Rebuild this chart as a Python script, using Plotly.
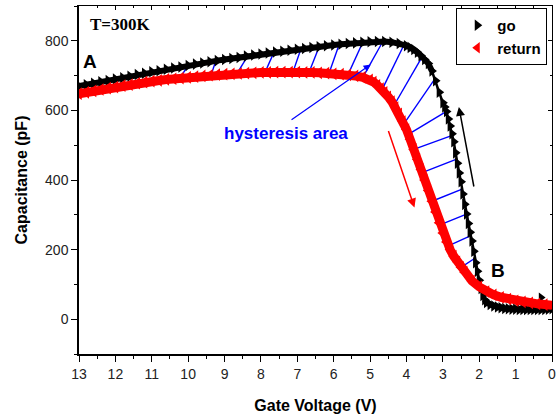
import numpy as np
import plotly.graph_objects as go

# ---- data ----
go_v = [13.0, 12.8, 12.6, 12.4, 12.2, 12.0, 11.8, 11.6, 11.4, 11.2, 11.0, 10.8, 10.6, 10.4, 10.2,
        10.0, 9.8, 9.6, 9.4, 9.2, 9.0, 8.8, 8.6, 8.4, 8.2, 8.0, 7.8, 7.6, 7.4, 7.2, 7.0, 6.8, 6.6,
        6.4, 6.2, 6.0, 5.8, 5.6, 5.4, 5.2, 5.0, 4.8, 4.6, 4.4, 4.2, 4.0, 3.9, 3.8, 3.7, 3.6, 3.5,
        3.4, 3.3, 3.2, 3.1, 3.0, 2.95, 2.9, 2.85, 2.8, 2.75, 2.7, 2.65, 2.6, 2.55, 2.5, 2.45, 2.4,
        2.35, 2.3, 2.25, 2.2, 2.15, 2.1, 2.05, 2.0, 1.95, 1.9, 1.85, 1.8, 1.7, 1.6, 1.5, 1.4, 1.3,
        1.2, 1.1, 1.0, 0.9, 0.8, 0.7, 0.6, 0.5, 0.4, 0.3, 0.2, 0.1, 0.0]
go_c = [670, 674, 678, 682, 686, 690, 694, 698, 703, 707, 711, 714, 718, 722, 725,
        729, 733, 736, 740, 743, 746, 749, 752, 756, 759, 762, 765, 768, 770, 773, 776, 778, 781,
        783, 786, 788, 790, 792, 794, 796, 797, 798, 798, 796, 792, 786, 781, 775, 767, 757, 746,
        735, 713, 685, 652, 622, 610, 597, 575, 555, 533, 510, 478, 448, 420, 395, 360, 330,
        302, 275, 250, 225, 195, 162, 138, 112, 88, 68, 56, 48, 42, 38, 35, 33, 31,
        30, 29, 29, 28, 28, 28, 28, 28, 28, 28, 28, 29, 30]
go_start_v = [0.3]
go_start_c = [62]

ret_v = [13.0, 12.8, 12.6, 12.4, 12.2, 12.0, 11.8, 11.6, 11.4, 11.2, 11.0, 10.8, 10.6, 10.4, 10.2,
         10.0, 9.8, 9.6, 9.4, 9.2, 9.0, 8.8, 8.6, 8.4, 8.2, 8.0, 7.8, 7.6, 7.4, 7.2, 7.0, 6.8, 6.6,
         6.4, 6.2, 6.0, 5.8, 5.6, 5.4, 5.2, 5.0, 4.9, 4.8, 4.7, 4.6, 4.5, 4.4, 4.3, 4.2, 4.1, 4.0,
         3.9, 3.8, 3.7, 3.6, 3.5, 3.4, 3.3, 3.2, 3.1, 3.0, 2.9, 2.8, 2.7, 2.6, 2.5, 2.4, 2.2, 2.0,
         1.8, 1.6, 1.4, 1.2, 1.0, 0.8, 0.6, 0.4, 0.2, 0.0]
ret_c = [648, 652, 656, 660, 664, 667, 671, 674, 678, 681, 684, 686, 689, 691, 693,
         695, 697, 699, 701, 703, 704, 705, 706, 707, 708, 709, 709, 710, 710, 710, 710, 709, 709,
         708, 707, 705, 704, 702, 699, 695, 688, 681, 672, 663, 652, 639, 625, 608, 590, 568, 545,
         517, 488, 459, 430, 400, 370, 339, 308, 277, 248, 222, 200, 181, 165, 149, 135, 110, 93,
         79, 70, 63, 58, 53, 50, 47, 44, 42, 40]

# hysteresis hatch lines: voltage on the return curve -> voltage on the go curve
hatch_ret_v = [10.23, 9.37, 8.66, 7.89, 7.12, 6.68, 6.13, 5.61, 5.20, 4.67, 4.34, 4.07, 3.95,
               3.80, 3.57, 3.30, 3.08, 2.85, 2.50]
hatch_go_v = [10.0, 9.24, 8.36, 7.64, 6.90, 6.40, 5.85, 5.20, 4.65, 4.07, 3.57, 3.22, 2.90,
              2.74, 2.62, 2.47, 2.35, 2.23, 2.12]

x_ticks = list(range(0, 14))
y_ticks = [0, 200, 400, 600, 800]

SANS = "Liberation Sans, Arial, sans-serif"
SERIF = "Liberation Serif, Times New Roman, serif"

fig = go.Figure()

# hatch lines (below the curves)
gv_asc = np.array(go_v[::-1]); gc_asc = np.array(go_c[::-1])
rv_asc = np.array(ret_v[::-1]); rc_asc = np.array(ret_c[::-1])
hx, hy = [], []
for rv, gvv in zip(hatch_ret_v, hatch_go_v):
    hx += [rv, gvv, None]
    hy += [float(np.interp(rv, rv_asc, rc_asc)), float(np.interp(gvv, gv_asc, gc_asc)), None]
fig.add_trace(go.Scatter(x=hx, y=hy, mode="lines", line=dict(color="#0000ff", width=1.4),
                         showlegend=False, hoverinfo="skip"))

# go sweep: dense flat parts as a thick band, steep part as separate triangles
gv = np.array(go_v); gc = np.array(go_c)
flat_hi = gv >= 3.3
flat_lo = gv <= 1.85
for mask in (flat_hi, flat_lo):
    fig.add_trace(go.Scatter(x=gv[mask], y=gc[mask], mode="lines",
                             line=dict(color="black", width=6),
                             showlegend=False, hoverinfo="skip"))
fig.add_trace(go.Scatter(x=go_v, y=go_c, mode="lines+markers",
                         line=dict(color="black", width=2.5),
                         marker=dict(symbol="triangle-right", size=10, color="black"),
                         showlegend=False))
fig.add_trace(go.Scatter(x=go_start_v, y=go_start_c, mode="markers",
                         marker=dict(symbol="triangle-right", size=9, color="black"),
                         showlegend=False))
fig.add_trace(go.Scatter(x=ret_v, y=ret_c, mode="lines+markers",
                         line=dict(color="#ff0000", width=9),
                         marker=dict(symbol="triangle-left", size=11, color="#ff0000"),
                         showlegend=False))

# legend entries
fig.add_trace(go.Scatter(x=[None], y=[None], mode="markers", name="go",
                         marker=dict(symbol="triangle-right", size=10, color="black")))
fig.add_trace(go.Scatter(x=[None], y=[None], mode="markers", name="return",
                         marker=dict(symbol="triangle-left", size=10, color="#ff0000")))

# mirror axes (inside ticks on top/right)
fig.add_trace(go.Scatter(x=[None], y=[None], xaxis="x2", yaxis="y2", showlegend=False))

axis_font = dict(family=SANS, size=14, color="#222222")
fig.update_layout(
    width=556, height=417,
    margin=dict(l=79, r=4, t=6, b=63, autoexpand=False),
    paper_bgcolor="white", plot_bgcolor="white",
    showlegend=True,
    legend=dict(x=0.99, y=0.994, xanchor="right", yanchor="top",
                bgcolor="white", bordercolor="black", borderwidth=1,
                font=dict(family=SANS, size=15, color="black", weight="bold"),
                itemwidth=30, tracegroupgap=0),
    xaxis=dict(range=[13, 0], tickvals=x_ticks, ticks="outside", ticklen=6, tickwidth=1.2,
               tickcolor="black", showline=True, linecolor="black", linewidth=1.5,
               showgrid=False, zeroline=False, tickfont=axis_font, ticklabeloverflow="allow",
               minor=dict(dtick=0.5, ticks="outside", ticklen=3, tickcolor="black", tickwidth=1.2),
               title=dict(text="Gate Voltage (V)", standoff=19,
                          font=dict(family=SANS, size=16, color="black", weight="bold"))),
    yaxis=dict(range=[-100, 900], tickvals=y_ticks, ticks="outside", ticklen=6, tickwidth=1.2,
               tickcolor="black", showline=True, linecolor="black", linewidth=1.5,
               showgrid=False, zeroline=False, tickfont=axis_font,
               minor=dict(dtick=100, tick0=0, ticks="outside", ticklen=3, tickcolor="black", tickwidth=1.2),
               title=dict(text="Capacitance (pF)", standoff=13,
                          font=dict(family=SANS, size=16, color="black", weight="bold"))),
    xaxis2=dict(overlaying="x", side="top", range=[13, 0], tickvals=x_ticks, ticks="inside",
                ticklen=4, tickcolor="black", showticklabels=False, showline=True,
                linecolor="black", linewidth=1, showgrid=False, zeroline=False,
                minor=dict(dtick=0.5, ticks="inside", ticklen=2, tickcolor="black")),
    yaxis2=dict(overlaying="y", side="right", range=[-100, 900], tickvals=y_ticks, ticks="inside",
                ticklen=4, tickcolor="black", showticklabels=False, showline=True,
                linecolor="black", linewidth=1, showgrid=False, zeroline=False,
                minor=dict(dtick=100, tick0=0, ticks="inside", ticklen=2, tickcolor="black")),
)

annots = [
    dict(x=11.85, y=847, text="<b>T=300K</b>", showarrow=False,
         font=dict(family=SERIF, size=17, color="black")),
    dict(x=12.7, y=740, text="<b>A</b>", showarrow=False,
         font=dict(family=SANS, size=19, color="black")),
    dict(x=1.48, y=140, text="<b>B</b>", showarrow=False,
         font=dict(family=SANS, size=19, color="black")),
    dict(x=7.3, y=535, text="<b>hysteresis area</b>", showarrow=False,
         font=dict(family=SANS, size=17, color="#0000ff")),
    # arrows
    dict(x=4.98, y=732, ax=7.2, ay=570, axref="x", ayref="y", xref="x", yref="y",
         text="", showarrow=True, arrowhead=2, arrowsize=1.2, arrowwidth=1.2, arrowcolor="#0000ff"),
    dict(x=3.78, y=321, ax=4.51, ay=545, axref="x", ayref="y", xref="x", yref="y",
         text="", showarrow=True, arrowhead=2, arrowsize=1.2, arrowwidth=1.5, arrowcolor="#ff0000"),
    dict(x=2.56, y=610, ax=2.14, ay=377, axref="x", ayref="y", xref="x", yref="y",
         text="", showarrow=True, arrowhead=2, arrowsize=1.2, arrowwidth=1.5, arrowcolor="black"),
]
fig.update_layout(annotations=annots)

fig.write_html("out.html", config={"displayModeBar": False},
               post_script="document.body.style.margin='0';document.body.style.overflow='hidden';")
